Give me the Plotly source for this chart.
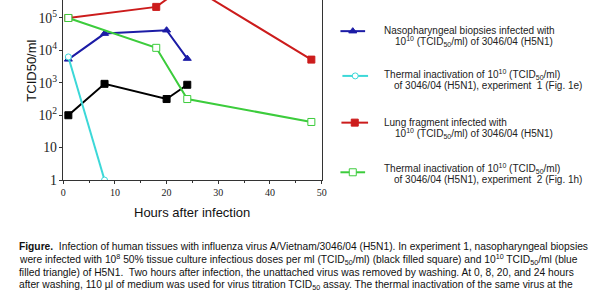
import plotly.graph_objects as go

# ---- data ----
hours_np = [1, 8, 20, 24]
naso_1e8 = [100, 930, 316, 870]          # black filled square
naso_1e10 = [5300, 33000, 42000, 5600]   # blue filled triangle
hours_th1 = [1, 8]
thermal_1 = [6300, 1]                    # cyan open circle
hours_lung = [1, 18, 24, 48]
lung = [100000, 220000, 1100000, 5200]   # red filled square
hours_th2 = [1, 18, 24, 48]
thermal_2 = [100000, 12000, 316, 62]     # green open square

legend_labels = [
    ("Nasopharyngeal biopsies infected with", "10<sup>10</sup> (TCID<sub>50</sub>/ml) of 3046/04 (H5N1)"),
    ("Thermal inactivation of 10<sup>10</sup> (TCID<sub>50</sub>/ml)", "of 3046/04 (H5N1), experiment  1 (Fig. 1e)"),
    ("Lung fragment infected with", "10<sup>10</sup> (TCID<sub>50</sub>/ml) of 3046/04 (H5N1)"),
    ("Thermal inactivation of 10<sup>10</sup> (TCID<sub>50</sub>/ml)", "of 3046/04 (H5N1), experiment  2 (Fig. 1h)"),
]
caption_lines = [
    "<b>Figure.</b>  Infection of human tissues with influenza virus A/Vietnam/3046/04 (H5N1). In experiment 1, nasopharyngeal biopsies",
    "were infected with 10<sup>8</sup> 50% tissue culture infectious doses per ml (TCID<sub>50</sub>/ml) (black filled square) and 10<sup>10</sup> TCID<sub>50</sub>/ml (blue",
    "filled triangle) of H5N1.  Two hours after infection, the unattached virus was removed by washing. At 0, 8, 20, and 24 hours",
    "after washing, 110 µl of medium was used for virus titration TCID<sub>50</sub> assay. The thermal inactivation of the same virus at the",
]

BLUE = "#1c1ca6"
CYAN = "#3cd8d8"
RED = "#cc1c1c"
GREEN = "#3ccc3c"
BLACK = "#000000"

W, H = 600, 300
PL, PR, PB = 61, 323, 185  # plot area in pixels

fig = go.Figure()

def add(x, y, color, symbol, filled, size=7):
    fig.add_trace(go.Scatter(
        x=x, y=y, mode="lines+markers",
        line=dict(color=color, width=2),
        marker=dict(symbol=symbol, size=size,
                    color=color if filled else "white",
                    line=dict(color=color, width=1)),
        showlegend=False, cliponaxis=True, hoverinfo="skip"))

add(hours_lung, lung, RED, "square", True)
add(hours_np, naso_1e8, BLACK, "square", True)
add(hours_np, naso_1e10, BLUE, "triangle-up", True)
add(hours_th2, thermal_2, GREEN, "square", False)
add(hours_th1, thermal_1, CYAN, "circle", False, 6)

# legend samples drawn in a full-figure pixel subplot
leg_y = [32, 78, 126, 177]
leg_x0 = [342, 344, 343, 342]
leg_x1 = [367, 370, 370, 367]
leg_colors = [BLUE, CYAN, RED, GREEN]
leg_sym = ["triangle-up", "circle", "square", "square"]
leg_fill = [True, False, True, False]
for i in range(4):
    c = leg_colors[i]
    xm = (leg_x0[i] + leg_x1[i]) / 2
    fig.add_trace(go.Scatter(
        x=[leg_x0[i], xm, leg_x1[i]], y=[leg_y[i]] * 3, mode="lines",
        line=dict(color=c, width=2), xaxis="x2", yaxis="y2",
        showlegend=False, hoverinfo="skip"))
    fig.add_trace(go.Scatter(
        x=[xm], y=[leg_y[i]], mode="markers",
        marker=dict(symbol=leg_sym[i], size=7 if i != 1 else 6,
                    color=c if leg_fill[i] else "white", line=dict(color=c, width=1)),
        xaxis="x2", yaxis="y2", showlegend=False, hoverinfo="skip"))

FONT = "Liberation Sans, Arial"
annotations = []
txt_y = [(31, 43), (77, 88), (126, 137), (173, 184)]
txt_x2 = [395, 394, 395, 394]
for i, (a, b) in enumerate(legend_labels):
    annotations.append(dict(x=384, y=txt_y[i][0], xref="x2", yref="y2", text=a,
                            xanchor="left", yanchor="middle", showarrow=False,
                            font=dict(family=FONT, size=10, color="#222")))
    annotations.append(dict(x=txt_x2[i], y=txt_y[i][1], xref="x2", yref="y2", text=b,
                            xanchor="left", yanchor="middle", showarrow=False,
                            font=dict(family=FONT, size=10, color="#222")))

cap_y = [253, 267, 280, 293]
for i, line in enumerate(caption_lines):
    annotations.append(dict(x=14, y=cap_y[i], xref="x2", yref="y2", text=line,
                            xanchor="left", yanchor="middle", showarrow=False,
                            font=dict(family=FONT, size=10.25, color="#111")))

annotations.append(dict(x=28, y=73, xref="x2", yref="y2", text="TCID50/ml", textangle=-90,
                        xanchor="center", yanchor="middle", showarrow=False,
                        font=dict(family=FONT, size=13, color="#111")))
annotations.append(dict(x=192, y=218, xref="x2", yref="y2", text="Hours after infection",
                        xanchor="center", yanchor="middle", showarrow=False,
                        font=dict(family=FONT, size=13, color="#111")))

fig.update_layout(
    width=W, height=H,
    margin=dict(l=0, r=0, t=0, b=0),
    paper_bgcolor="white", plot_bgcolor="rgba(0,0,0,0)",
    xaxis=dict(domain=[PL / W, PR / W], range=[0, 50], dtick=10, tick0=0,
               showgrid=False, zeroline=False, showline=True, linecolor="#333", linewidth=1,
               ticks="outside", ticklen=3, tickcolor="#333", anchor="y",
               minor=dict(dtick=5, ticks="outside", ticklen=2, tickcolor="#333"),
               tickfont=dict(family="Liberation Serif, Times New Roman", size=10, color="#222")),
    yaxis=dict(domain=[(H - PB) / H, 1], type="log", range=[0, 5.555], dtick=1,
               exponentformat="power", showgrid=False, zeroline=False, anchor="x",
               showline=True, mirror=True, linecolor="#333", linewidth=1,
               ticks="outside", ticklen=3, tickcolor="#333",
               tickfont=dict(family="Liberation Serif, Times New Roman", size=11, color="#222")),
    xaxis2=dict(domain=[0, 1], range=[0, W], visible=False, anchor="y2"),
    yaxis2=dict(domain=[0, 1], range=[H, 0], visible=False, anchor="x2"),
    annotations=annotations,
    showlegend=False,
)

fig.write_html("out.html")
